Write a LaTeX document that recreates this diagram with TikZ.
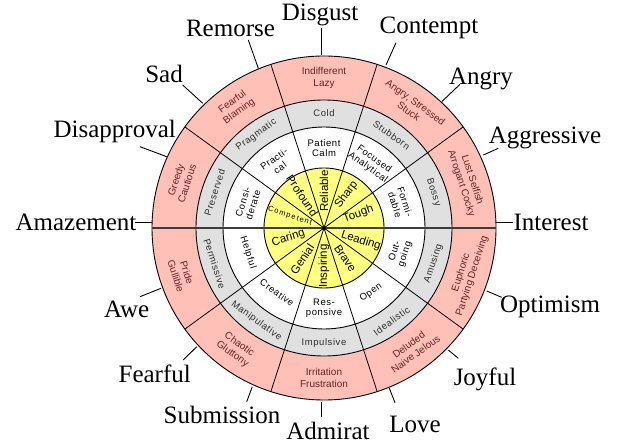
\documentclass[tikz,border=0pt]{standalone}
\usepackage{fontspec}
\setmainfont{Liberation Serif}
\newfontfamily\ringfont{Liberation Sans}
\newfontfamily\spacedfont[LetterSpace=6]{Liberation Sans}
\newfontfamily\compfont[LetterSpace=15]{Liberation Sans}
\usetikzlibrary{calc}
\definecolor{pinkfill}{HTML}{FFC0B8}
\definecolor{grayfill}{HTML}{E0E0E0}
\definecolor{yellowfill}{HTML}{FFFF80}
\definecolor{pinktext}{RGB}{105,35,35}
\definecolor{graytext}{RGB}{45,45,45}
\definecolor{darkline}{RGB}{60,60,60}
\begin{document}
\begin{tikzpicture}[x=1pt,y=1pt,
  emo/.style={font=\fontsize{25}{30}\selectfont, anchor=base, inner sep=0pt},
  spoke/.style={line width=0.9pt},
  ring/.style={draw=black, line width=0.9pt},
  radial/.style={line width=0.8pt},
  pinktxt/.style={font=\ringfont\fontsize{10}{11.5}\selectfont, text=pinktext, align=center, inner sep=0pt},
  graytxt/.style={font=\spacedfont\fontsize{9.5}{11.5}\selectfont, text=graytext, align=center, inner sep=0pt},
  whitetxt/.style={font=\spacedfont\fontsize{9.5}{10.5}\selectfont, text=black, align=center, inner sep=0pt},
  coretxt/.style={font=\ringfont\fontsize{11.5}{13}\selectfont, text=black, align=center, inner sep=0pt}]
\useasboundingbox (0,0) rectangle (620,444);
\coordinate (C) at (324,216);
% rings
\fill[pinkfill, ring] (C) circle[radius=172pt];
\fill[grayfill, ring] (C) circle[radius=128pt];
\fill[white, ring] (C) circle[radius=101pt];
\fill[yellowfill, ring] (C) circle[radius=60pt];
% radial lines
\foreach \a in {36,72,108,144,-36,-72,-108,-144}
  \draw[radial] (C) -- ($(C)+(\a:172pt)$);
\coordinate (W) at ($(C)+(180:172pt)$);
\coordinate (E) at ($(C)+(0:172pt)$);
\draw[line width=1.5pt, draw=darkline] (W) -- (E);
\fill (C) circle[radius=2pt];
% outer ring texts
\node[pinktxt] (p1) at ($(C)+(90:150pt)$) {Indifferent\\Lazy};
\node[pinktxt, rotate=-36] (p2) at ($(C)+(54:150pt)$) {Angry, Stressed\\Stuck};
\node[pinktxt, rotate=-72] (p3) at ($(C)+(18:150pt)$) {Lust Selfish\\Arrogant Cocky};
\node[pinktxt, rotate=72] (p4) at ($(C)+(-18:150pt)$) {Euphoric\\Partying Deceiving};
\node[pinktxt, rotate=36] (p5) at ($(C)+(-54:150pt)$) {Deluded\\Naive Jelous};
\node[pinktxt] (p6) at ($(C)+(-90:150pt)$) {Irritation\\Frustration};
\node[pinktxt, rotate=-36] (p7) at ($(C)+(-126:150pt)$) {Chaotic\\Gluttony};
\node[pinktxt, rotate=-72] (p8) at ($(C)+(-162:150pt)$) {Pride\\Gullible};
\node[pinktxt, rotate=72] (p9) at ($(C)+(162:150pt)$) {Greedy\\Cautious};
\node[pinktxt, rotate=36] (p10) at ($(C)+(126:150pt)$) {Fearful\\Blaming};
% gray ring texts
\node[graytxt] (g1) at ($(C)+(90:115pt)$) {Cold};
\node[graytxt, rotate=-36] (g2) at ($(C)+(54:115pt)$) {Stubborn};
\node[graytxt, rotate=-72] (g3) at ($(C)+(18:115pt)$) {Bossy};
\node[graytxt, rotate=72] (g4) at ($(C)+(-18:115pt)$) {Amusing};
\node[graytxt, rotate=36] (g5) at ($(C)+(-54:115pt)$) {Idealistic};
\node[graytxt] (g6) at ($(C)+(-90:115pt)$) {Impulsive};
\node[graytxt, rotate=-36] (g7) at ($(C)+(-126:115pt)$) {Manipulative};
\node[graytxt, rotate=-72] (g8) at ($(C)+(-162:115pt)$) {Permissive};
\node[graytxt, rotate=72] (g9) at ($(C)+(162:115pt)$) {Preserved};
\node[graytxt, rotate=36] (g10) at ($(C)+(126:115pt)$) {Pragmatic};
% white ring texts
\node[whitetxt] (w1) at ($(C)+(90:80pt)$) {Patient\\Calm};
\node[whitetxt, rotate=-36] (w2) at ($(C)+(54:80pt)$) {Focused\\Analytical};
\node[whitetxt, rotate=-72] (w3) at ($(C)+(18:80pt)$) {Formi-\\dable};
\node[whitetxt, rotate=72] (w4) at ($(C)+(-18:80pt)$) {Out-\\going};
\node[whitetxt, rotate=36] (w5) at ($(C)+(-54:80pt)$) {Open};
\node[whitetxt] (w6) at ($(C)+(-90:80pt)$) {Res-\\ponsive};
\node[whitetxt, rotate=-36] (w7) at ($(C)+(-126:80pt)$) {Creative};
\node[whitetxt, rotate=-72] (w8) at ($(C)+(-162:80pt)$) {Helpful};
\node[whitetxt, rotate=72] (w9) at ($(C)+(162:80pt)$) {Consi-\\derate};
\node[whitetxt, rotate=36] (w10) at ($(C)+(126:80pt)$) {Practi-\\cal};
% core texts
\node[coretxt, rotate=90] (y1) at ($(C)+(90:37pt)$) {Reliable};
\node[coretxt, rotate=54] (y2) at ($(C)+(56:40pt)$) {Sharp};
\node[coretxt, rotate=20] (y3) at ($(C)+(22:37pt)$) {Tough};
\node[coretxt, rotate=-18] (y4) at ($(C)+(-19:39pt)$) {Leading};
\node[coretxt, rotate=-56] (y5) at ($(C)+(-55:37pt)$) {Brave};
\node[coretxt, rotate=90] (y6) at ($(C)+(-90:38pt)$) {Inspiring};
\node[coretxt, rotate=56] (y7) at ($(C)+(-125:38pt)$) {Genial};
\node[coretxt, rotate=18] (y8) at ($(C)+(-164:37pt)$) {Caring};
\node[font=\compfont\fontsize{7.5}{9}\selectfont, inner sep=0pt, rotate=-18] (y9) at ($(C)+(161:36pt)$) {Competent};
\node[coretxt, rotate=-56] (y10) at ($(C)+(124:39pt)$) {Profound};
% outer labels
\node[emo] (disgust) at (320,423.5) {Disgust};
\node[emo] (contempt) at (429,410.7) {Contempt};
\node[emo] (angry) at (481,359) {Angry};
\node[emo] (aggressive) at (545,300.7) {Aggressive};
\node[emo] (interest) at (551,213.5) {Interest};
\node[emo] (optimism) at (550,131.3) {Optimism};
\node[emo] (joyful) at (485,58.3) {Joyful};
\node[emo] (love) at (415,11.7) {Love};
\node[emo] (admirat) at (328,4.5) {Admirat};
\node[emo] (submission) at (222,20.7) {Submission};
\node[emo] (fearful) at (154.7,61.3) {Fearful};
\node[emo] (awe) at (126.7,126.7) {Awe};
\node[emo] (amazement) at (76,213.5) {Amazement};
\node[emo] (disapproval) at (114.7,306.7) {Disapproval};
\node[emo] (sad) at (164,361.7) {Sad};
\node[emo] (remorse) at (230.5,407.3) {Remorse};
% spoke end points
\coordinate (s1a) at (321.7,389);   \coordinate (s1b) at (321.7,416);
\coordinate (s2a) at (386,379);     \coordinate (s2b) at (396,401.3);
\coordinate (s3a) at (441.7,342.3); \coordinate (s3b) at (460,359.7);
\coordinate (s4a) at (483.3,289);   \coordinate (s4b) at (498.3,295.7);
\coordinate (s5a) at (496,222);     \coordinate (s5b) at (513,222);
\coordinate (s6a) at (486.7,153);   \coordinate (s6b) at (501.7,146.7);
\coordinate (s7a) at (448.3,94);    \coordinate (s7b) at (458.3,85.7);
\coordinate (s8a) at (389.3,55.7);  \coordinate (s8b) at (395,41.3);
\coordinate (s9a) at (321.7,42.3);  \coordinate (s9b) at (321.7,27.3);
\coordinate (s10a) at (252.3,57.3); \coordinate (s10b) at (246.7,42.3);
\coordinate (s11a) at (196.7,97.3); \coordinate (s11b) at (183.3,84);
\coordinate (s12a) at (161,155.7);  \coordinate (s12b) at (140,147.3);
\coordinate (s13a) at (152,222);    \coordinate (s13b) at (135,222);
\coordinate (s14a) at (166.7,287.3);\coordinate (s14b) at (140,297.3);
\coordinate (s15a) at (202.7,340.7);\coordinate (s15b) at (182.7,359);
\coordinate (s16a) at (258.3,375.7);\coordinate (s16b) at (248.3,404);
\foreach \i in {1,...,16} \draw[spoke] (s\i a) -- (s\i b);
\end{tikzpicture}
\end{document}
